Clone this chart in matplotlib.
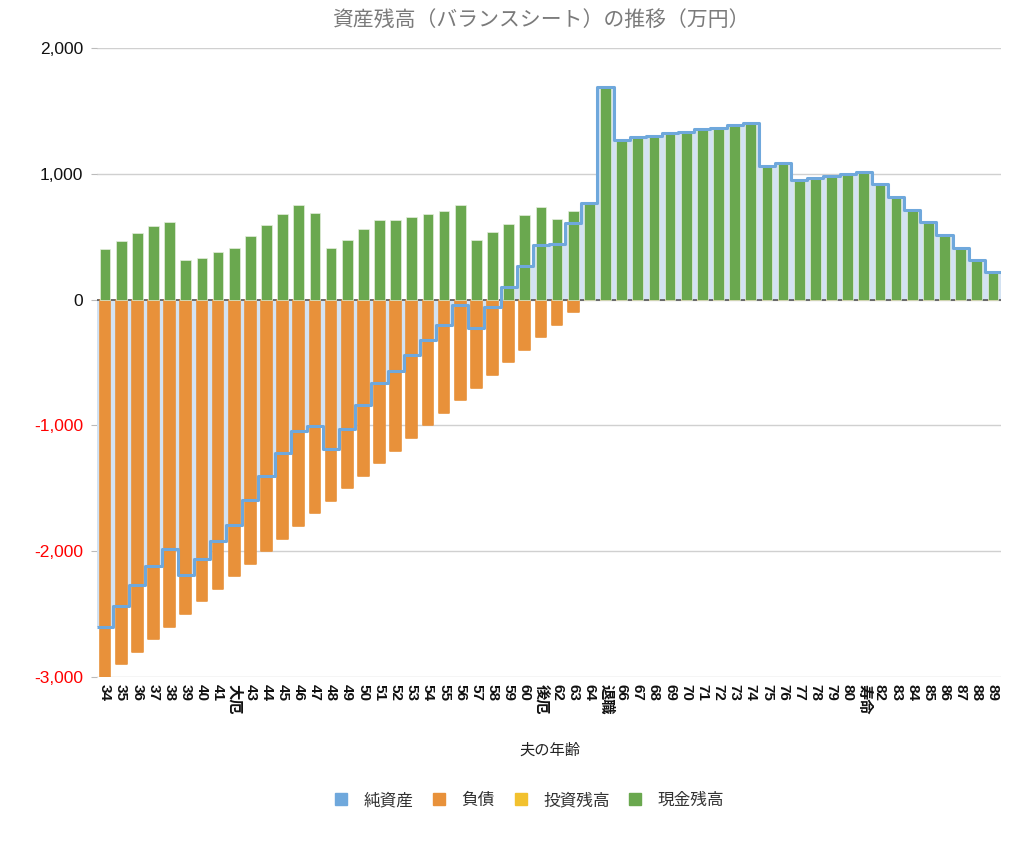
import matplotlib
matplotlib.use("Agg")
import matplotlib.pyplot as plt
from matplotlib.lines import Line2D
import numpy as np

plt.rcParams['font.family'] = ['Liberation Sans', 'Noto Sans CJK JP', 'DejaVu Sans']

# ages of husband, some with special labels
ages = ["34", "35", "36", "37", "38", "39", "40", "41", "大厄", "43",
        "44", "45", "46", "47", "48", "49", "50", "51", "52", "53",
        "54", "55", "56", "57", "58", "59", "60", "後厄", "62", "63",
        "64", "退職", "66", "67", "68", "69", "70", "71", "72", "73",
        "74", "75", "76", "77", "78", "79", "80", "寿命", "82", "83",
        "84", "85", "86", "87", "88", "89"]

cash = [400, 464, 530, 583, 615, 313, 334, 379, 411, 509,
        594, 681, 755, 692, 411, 474, 562, 636, 636, 657,
        681, 702, 755, 474, 541, 604, 670, 734, 644, 707,
        766, 1688, 1272, 1290, 1301, 1322, 1335, 1357, 1367, 1388,
        1402, 1065, 1084, 951, 967, 983, 998, 1015, 922, 816,
        713, 620, 514, 408, 313, 217]

debt = [3000, 2900, 2800, 2700, 2600, 2500, 2400, 2300, 2200, 2100,
        2000, 1900, 1800, 1700, 1600, 1500, 1400, 1300, 1200, 1100,
        1000, 900, 800, 700, 600, 500, 400, 300, 200, 100,
        0, 0, 0, 0, 0, 0, 0, 0, 0, 0,
        0, 0, 0, 0, 0, 0, 0, 0, 0, 0,
        0, 0, 0, 0, 0, 0]

invest = [0, 0, 0, 0, 0, 0, 0, 0, 0, 0,
          0, 0, 0, 0, 0, 0, 0, 0, 0, 0,
          0, 0, 0, 0, 0, 0, 0, 0, 0, 0,
          0, 0, 0, 0, 0, 0, 0, 0, 0, 0,
          0, 0, 0, 0, 0, 0, 0, 0, 0, 0,
          0, 0, 0, 0, 0, 0]

legend_names = ["純資産", "負債", "投資残高", "現金残高"]

BLUE = "#6FA8DC"
FILL = "#D3E2F2"
ORANGE = "#E8913A"
YELLOW = "#F2C12E"
GREEN = "#6AA84F"

cash = np.array(cash)
debt = np.array(debt)
invest = np.array(invest)
net = cash + invest - debt

x = np.arange(len(ages))
edges = np.arange(len(ages) + 1) - 0.5

fig = plt.figure(figsize=(10.24, 8.44), dpi=100)
ax = fig.add_axes([0.0947, 0.1979, 0.8828, 0.7452])

# net assets as a stepped area behind the bars
ax.stairs(net, edges, baseline=0, fill=True, color=FILL, zorder=1, linewidth=0)
ax.axhline(0, color="#555555", lw=1.2, zorder=1.5)

w = 0.66
ax.bar(x, -debt, width=w, color=ORANGE, edgecolor=ORANGE, linewidth=1.2,
       joinstyle="round", zorder=2)
ax.bar(x, invest, width=w, color=YELLOW, zorder=2)
ax.bar(x, cash, bottom=invest, width=w, color=GREEN, edgecolor="#E4EEDD",
       linewidth=0.5, zorder=2)

step = ax.stairs(net, edges, baseline=None, color=BLUE, linewidth=2.2, zorder=3)
step.set_joinstyle("round")

ax.set_xlim(-0.5, len(ages) - 0.5)
ax.set_ylim(-3000, 2000)
yt = [-3000, -2000, -1000, 0, 1000, 2000]
ax.set_yticks(yt)
ax.set_yticklabels(["-3,000", "-2,000", "-1,000", "0", "1,000", "2,000"], fontsize=12.5)
for lbl, v in zip(ax.get_yticklabels(), yt):
    lbl.set_color("red" if v < 0 else "#111111")
ax.yaxis.grid(True, color="#D0D0D0", linewidth=1)
ax.set_axisbelow(True)
ax.tick_params(axis="y", length=4, color="#BBBBBB", pad=6)

ax.set_xticks(x)
ax.set_xticklabels(ages, rotation=-90, fontsize=11, fontweight="bold", color="#111111")
ax.tick_params(axis="x", length=0, pad=5)

for s in ax.spines.values():
    s.set_visible(False)

fig.text(0.528, 0.977, "資産残高（バランスシート）の推移（万円）", ha="center", va="center",
         fontsize=15, color="#7A7A7A")
fig.text(0.537, 0.111, "夫の年齢", ha="center", va="center", fontsize=11, color="#222222")

handles = [Line2D([], [], marker="s", linestyle="none", markersize=9, color=c)
           for c in [BLUE, ORANGE, YELLOW, GREEN]]
fig.legend(handles, legend_names, loc="center", bbox_to_anchor=(0.516, 0.052), ncol=4,
           frameon=False, fontsize=12, handlelength=1.0, handletextpad=0.85,
           columnspacing=1.05, labelcolor="#333333")

fig.savefig("out.png", dpi=100)
